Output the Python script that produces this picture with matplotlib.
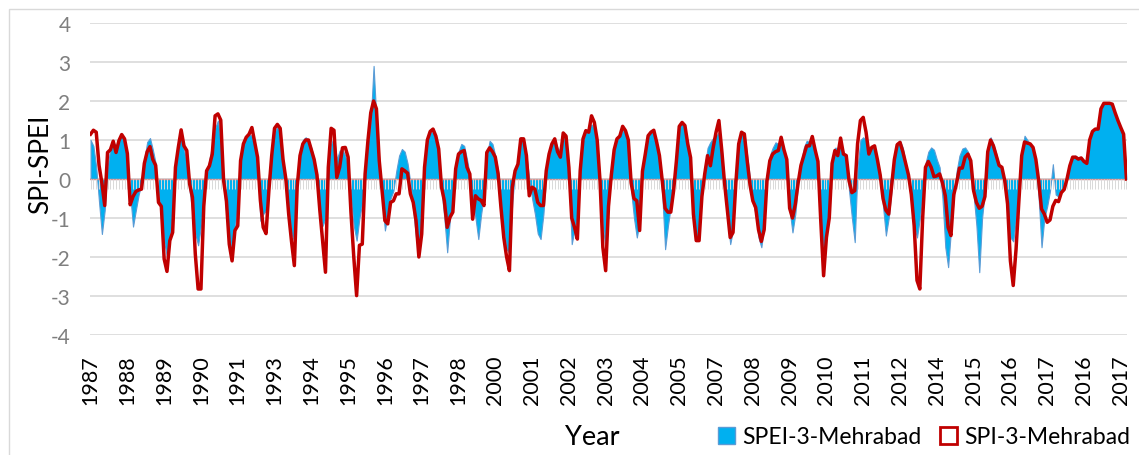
import matplotlib
matplotlib.use("Agg")
import matplotlib.pyplot as plt
import numpy as np
from matplotlib.patches import Patch, Rectangle

plt.rcParams['font.family'] = ['Lato', 'DejaVu Sans']
plt.rcParams['axes.unicode_minus'] = False

# SPI-3 (red line), monthly values
spi = [
    1.15, 1.25, 1.2, 0.35, -0.1, -0.68, 0.68, 0.75, 0.97, 0.68,
    0.98, 1.14, 1.03, 0.65, -0.66, -0.45, -0.32, -0.28, -0.26, 0.4,
    0.7, 0.83, 0.5, 0.35, -0.6, -0.7, -2.05, -2.37, -1.58, -1.37,
    0.3, 0.81, 1.26, 0.85, 0.73, -0.13, -0.47, -1.92, -2.82, -2.82,
    -0.7, 0.21, 0.34, 0.64, 1.62, 1.67, 1.51, -0.04, -0.56, -1.67,
    -2.1, -1.32, -1.2, 0.47, 0.9, 1.07, 1.15, 1.32, 0.94, 0.56,
    -0.55, -1.24, -1.4, -0.3, 0.6, 1.3, 1.4, 1.3, 0.5, 0.0,
    -0.9, -1.6, -2.22, -0.2, 0.6, 0.9, 1.0, 1.0, 0.75, 0.5,
    0.1, -0.8, -1.6, -2.39, 0.3, 1.3, 1.25, 0.04, 0.3, 0.8,
    0.81, 0.56, -0.85, -2.0, -2.99, -1.7, -1.67, 0.13, 0.98, 1.7,
    2.0, 1.8, 0.47, -0.3, -1.07, -1.15, -0.6, -0.56, -0.38, -0.38,
    0.26, 0.21, 0.15, -0.38, -0.6, -1.07, -2.0, -1.41, 0.3, 1.0,
    1.22, 1.28, 1.1, 0.77, -0.21, -0.56, -1.24, -0.98, -0.85, 0.26,
    0.64, 0.7, 0.73, 0.3, 0.13, -1.03, -0.43, -0.51, -0.55, -0.68,
    0.68, 0.8, 0.7, 0.56, 0.13, -0.73, -1.5, -2.0, -2.35, -0.21,
    0.21, 0.38, 1.03, 1.03, 0.6, -0.43, -0.21, -0.26, -0.6, -0.68,
    -0.68, 0.21, 0.64, 0.9, 1.03, 0.7, 0.56, 1.18, 1.1, 0.3,
    -1.0, -1.24, -1.54, 0.21, 1.03, 1.24, 1.2, 1.62, 1.45, 1.0,
    -0.04, -1.75, -2.35, -0.7, 0.1, 0.75, 1.03, 1.1, 1.35, 1.24,
    1.0, -0.1, -0.5, -0.56, -1.32, 0.2, 0.64, 1.11, 1.2, 1.25,
    0.95, 0.6, -0.05, -0.75, -0.85, -0.85, -0.3, 0.47, 1.35, 1.45,
    1.37, 0.9, 0.55, -0.9, -1.58, -1.58, -0.45, 0.13, 0.6, 0.34,
    0.81, 1.2, 1.5, 0.75, -0.1, -0.8, -1.5, -1.37, -0.1, 0.9,
    1.2, 1.15, 0.47, -0.15, -0.56, -0.73, -1.3, -1.6, -1.3, -0.05,
    0.47, 0.64, 0.7, 0.73, 1.07, 0.75, 0.5, -0.75, -1.0, -0.65,
    -0.1, 0.35, 0.6, 0.85, 0.85, 1.09, 0.75, 0.45, -1.07, -2.48,
    -1.5, -1.0, 0.4, 0.73, 0.6, 1.05, 0.64, 0.6, -0.05, -0.35,
    -0.3, 0.9, 1.5, 1.58, 1.2, 0.64, 0.81, 0.85, 0.5, 0.1,
    -0.5, -0.8, -0.9, -0.21, 0.5, 0.88, 0.94, 0.7, 0.4, 0.1,
    -0.4, -1.2, -2.6, -2.82, -1.0, 0.3, 0.45, 0.3, 0.06, 0.08,
    0.13, -0.1, -0.43, -1.24, -1.45, -0.4, -0.1, 0.28, 0.28, 0.56,
    0.64, 0.47, -0.3, -0.6, -0.75, -0.7, -0.45, 0.7, 1.0, 0.85,
    0.6, 0.35, 0.3, -0.04, -0.64, -2.1, -2.73, -1.8, -0.56, 0.6,
    0.95, 0.92, 0.9, 0.81, 0.5, -0.05, -0.77, -0.9, -1.11, -1.05,
    -0.7, -0.55, -0.58, -0.35, -0.27, 0.0, 0.34, 0.56, 0.56, 0.51,
    0.54, 0.45, 0.4, 1.0, 1.22, 1.28, 1.28, 1.8, 1.94, 1.94,
    1.94, 1.92, 1.7, 1.5, 1.32, 1.15, 0.0,
]

# SPEI-3 (blue area)
spei = [
    1.0, 0.85, 0.3, -0.6, -1.41, -0.8, 0.3, 0.8, 0.95, 0.85,
    1.05, 1.1, 0.95, 0.5, -0.4, -1.22, -0.8, -0.4, -0.1, 0.5,
    0.95, 1.05, 0.75, 0.4, -0.4, -0.9, -1.6, -2.0, -1.5, -0.9,
    0.3, 0.85, 1.1, 0.75, 0.4, -0.3, -0.9, -1.4, -1.7, -1.2,
    -0.5, 0.1, 0.5, 0.9, 1.3, 1.5, 0.9, -0.2, -0.9, -1.5,
    -1.9, -1.2, -0.7, 0.5, 0.9, 1.1, 1.15, 1.1, 0.9, 0.4,
    -1.07, -0.9, -0.8, 0.1, 0.7, 1.2, 1.35, 1.2, 0.5, -0.1,
    -0.8, -1.4, -1.6, -0.2, 0.7, 1.0, 1.07, 1.0, 0.8, 0.5,
    0.0, -0.8, -1.2, -1.0, 0.4, 0.9, 1.07, 0.5, 0.73, 0.75,
    0.6, 0.3, -0.5, -1.2, -1.58, -1.0, -0.6, 0.3, 0.9, 1.5,
    2.9, 1.5, 0.5, -0.5, -1.32, -0.9, -0.5, -0.3, 0.2, 0.6,
    0.77, 0.7, 0.4, -0.1, -0.8, -1.5, -1.92, -1.2, 0.3, 1.0,
    1.2, 1.2, 1.0, 0.6, -0.3, -1.0, -1.88, -1.0, -0.6, 0.2,
    0.7, 0.9, 0.85, 0.5, 0.1, -0.6, -1.0, -1.54, -0.9, -0.4,
    0.6, 0.98, 0.9, 0.6, 0.2, -0.6, -1.3, -1.8, -1.9, -0.6,
    0.2, 0.5, 1.07, 1.0, 0.6, 0.0, -0.5, -0.9, -1.4, -1.54,
    -0.9, 0.1, 0.6, 0.9, 1.0, 0.8, 0.7, 1.1, 1.0, 0.0,
    -1.67, -1.3, -1.0, 0.3, 1.0, 1.2, 1.3, 1.4, 1.3, 0.9,
    0.0, -1.2, -1.8, -0.6, 0.2, 0.8, 1.0, 1.1, 1.25, 1.2,
    0.9, -0.3, -1.0, -1.5, -1.1, 0.2, 0.7, 1.1, 1.2, 1.2,
    0.9, 0.4, -0.4, -1.8, -1.2, -0.7, -0.2, 0.5, 1.3, 1.45,
    1.35, 0.9, 0.5, -0.8, -1.58, -1.4, -0.4, 0.3, 0.8, 0.95,
    1.05, 1.1, 1.2, 0.8, -0.2, -1.0, -1.67, -1.3, -0.1, 0.9,
    1.2, 1.2, 0.6, 0.0, -0.6, -0.9, -1.5, -1.75, -1.2, 0.0,
    0.6, 0.8, 0.94, 0.9, 0.9, 0.7, 0.3, -0.8, -1.37, -0.9,
    -0.1, 0.4, 0.8, 0.98, 0.95, 0.9, 0.7, 0.3, -1.0, -1.9,
    -1.5, -0.8, 0.3, 0.8, 0.8, 0.9, 0.7, 0.5, -0.3, -1.0,
    -1.62, 0.3, 1.0, 1.07, 1.0, 0.8, 0.8, 0.8, 0.4, 0.0,
    -0.7, -1.45, -1.0, -0.3, 0.6, 0.9, 0.98, 0.8, 0.4, 0.0,
    -0.6, -1.2, -1.5, -1.0, -0.4, 0.4, 0.7, 0.81, 0.75, 0.5,
    0.3, -0.5, -1.75, -2.26, -1.3, -0.5, 0.2, 0.6, 0.78, 0.81,
    0.7, 0.4, -0.4, -1.2, -2.39, -1.0, -0.3, 0.6, 1.07, 0.9,
    0.65, 0.35, 0.2, -0.2, -0.8, -1.5, -1.6, -1.0, -0.3, 0.7,
    1.11, 1.0, 0.9, 0.7, 0.3, -0.5, -1.75, -1.0, -0.7, -0.3,
    0.38, -0.4, -0.45, -0.3, -0.2, 0.1, 0.4, 0.58, 0.6, 0.55,
    0.55, 0.45, 0.45, 1.0, 1.2, 1.28, 1.3, 1.8, 1.94, 1.94,
    1.94, 1.9, 1.7, 1.5, 1.32, 1.15, 0.0,
]

# category labels, one every 13 months as in the original sheet
year_labels = ['1987', '1988', '1989', '1990', '1991', '1993', '1994', '1995',
               '1996', '1997', '1998', '2000', '2001', '2002', '2003', '2004',
               '2005', '2007', '2008', '2009', '2010', '2011', '2012', '2014',
               '2015', '2016', '2017', '2016', '2017']
label_step = 13

x = np.arange(len(spi))

fig = plt.figure(figsize=(11.39, 4.56), dpi=100)
ax = fig.add_axes([90 / 1139, 1 - 336 / 456, 1037 / 1139, 312 / 456])

# SPEI area and SPI line
ax.fill_between(x, spei, 0, facecolor='#00B0F0', edgecolor='#5B9BD5', lw=0.8, zorder=2)
# category axis at zero with a tick per month
ax.axhline(0, color='#D99694', lw=1.0, zorder=3)
ax.vlines(x, -0.25, 0, colors='#D9D9D9', lw=0.7, zorder=3)
ax.plot(x, spi, color='#C00000', lw=2.5, zorder=4, solid_joinstyle='round')

ax.set_xlim(-0.2, len(spi) - 0.8)
ax.set_ylim(-4, 4)
ax.set_yticks(range(-4, 5))
ax.yaxis.grid(True, color='#D9D9D9', lw=1.2, zorder=0)
ax.set_axisbelow(True)
ax.set_xticks(x[::label_step][:len(year_labels)])
ax.set_xticklabels(year_labels, rotation=90, fontsize=15.5)
ax.tick_params(axis='x', length=0, pad=14)
ax.tick_params(axis='y', length=0, pad=14, labelsize=15, labelcolor='#7F7F7F')
for s in ax.spines.values():
    s.set_visible(False)

fig.text(41 / 1139, 1 - 164 / 456, 'SPI-SPEI', rotation=90, fontsize=19,
         ha='center', va='center')
fig.text(592 / 1139, 1 - 438 / 456, 'Year', fontsize=19.5, ha='center', va='center')

handles = [Patch(facecolor='#00B0F0', edgecolor='#5B9BD5', lw=1),
           Patch(facecolor='white', edgecolor='#C00000', lw=2)]
fig.legend(handles, ['SPEI-3-Mehrabad', 'SPI-3-Mehrabad'], ncol=2, frameon=False,
           fontsize=16.5, loc='center right', bbox_to_anchor=(1.004, 1 - 438 / 456),
           handlelength=0.75, handleheight=0.75, handletextpad=0.3,
           columnspacing=0.8, borderpad=0.1)

# outer chart border
fig.add_artist(Rectangle((9 / 1139, -0.1), 1.2, 1.1 - 10 / 456, transform=fig.transFigure,
                         fill=False, edgecolor='#D9D9D9', lw=1))

fig.savefig('out.png', dpi=100)
